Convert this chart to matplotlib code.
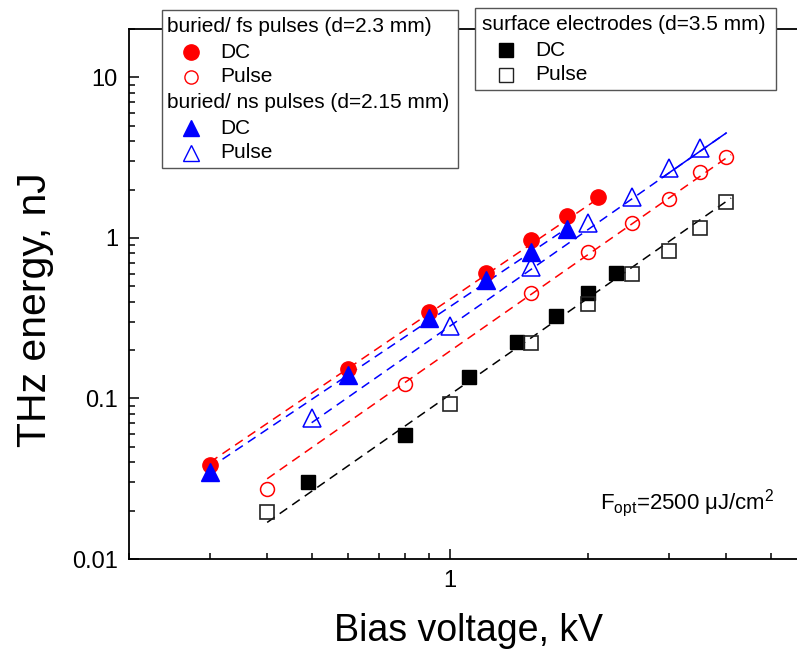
import numpy as np
import matplotlib
matplotlib.use("Agg")
import matplotlib.pyplot as plt
from matplotlib.ticker import LogLocator, FuncFormatter, NullFormatter
from matplotlib.patches import Rectangle
from matplotlib.lines import Line2D

plt.rcParams['font.family'] = ['Liberation Sans', 'DejaVu Sans']
plt.rcParams['mathtext.fontset'] = 'custom'
plt.rcParams['mathtext.rm'] = 'Liberation Sans'
plt.rcParams['mathtext.it'] = 'Liberation Sans:italic'

# ---- data (kV, nJ) ----
fs_dc_x = [0.3, 0.6, 0.9, 1.2, 1.5, 1.8, 2.1]
fs_dc_y = [0.0387, 0.153, 0.346, 0.606, 0.97, 1.37, 1.80]

fs_pulse_x = [0.4, 0.8, 1.5, 2.0, 2.5, 3.0, 3.5, 4.0]
fs_pulse_y = [0.0274, 0.123, 0.455, 0.82, 1.24, 1.75, 2.58, 3.19]

ns_dc_x = [0.3, 0.6, 0.9, 1.2, 1.5, 1.8]
ns_dc_y = [0.035, 0.140, 0.318, 0.548, 0.818, 1.14]

ns_pulse_x = [0.5, 1.0, 1.5, 2.0, 2.5, 3.0, 3.5]
ns_pulse_y = [0.076, 0.283, 0.66, 1.24, 1.80, 2.73, 3.63]

surf_dc_x = [0.49, 0.8, 1.1, 1.4, 1.7, 2.0, 2.3]
surf_dc_y = [0.030, 0.059, 0.136, 0.225, 0.327, 0.455, 0.606]

surf_pulse_x = [0.4, 1.0, 1.5, 2.0, 2.5, 3.0, 3.5, 4.0]
surf_pulse_y = [0.0195, 0.093, 0.222, 0.388, 0.597, 0.83, 1.15, 1.68]

# power-law fit lines (end points)
fit_fs_dc_x = [0.3, 2.1]
fit_fs_dc_y = [0.040, 1.75]
fit_ns_dc_x = [0.3, 1.8]
fit_ns_dc_y = [0.037, 1.15]
fit_ns_pulse_x = [0.5, 4.0]
fit_ns_pulse_y = [0.0706, 4.5]
fit_ns_pulse_solid_x = [2.9, 4.0]
fit_ns_pulse_solid_y = [2.37, 4.5]
fit_fs_pulse_x = [0.4, 4.1]
fit_fs_pulse_y = [0.0316, 3.3]
fit_surf_x = [0.4, 4.1]
fit_surf_y = [0.0169, 1.77]

W, H = 797, 650
fig = plt.figure(figsize=(W / 100, H / 100), dpi=100)
ax = fig.add_axes([129 / W, 1 - 559 / H, (807 - 129) / W, (559 - 29) / H])
ax.set_xscale('log')
ax.set_yscale('log')
ax.set_xlim(0.2, 6)
ax.set_ylim(0.01, 20)

dash = dict(lw=1.1, dashes=(6, 4))
ax.plot(fit_fs_dc_x, fit_fs_dc_y, color='#ff0000', **dash, zorder=2)
ax.plot(fit_ns_dc_x, fit_ns_dc_y, color='#0000ff', **dash, zorder=2)
ax.plot(fit_ns_pulse_x, fit_ns_pulse_y, color='#0000ff', **dash, zorder=2)
ax.plot(fit_ns_pulse_solid_x, fit_ns_pulse_solid_y, color='#0000ff', lw=1.1, zorder=2)
ax.plot(fit_fs_pulse_x, fit_fs_pulse_y, color='#ff0000', **dash, zorder=2)
ax.plot(fit_surf_x, fit_surf_y, color='black', **dash, zorder=2)

ax.plot(surf_dc_x, surf_dc_y, 's', ms=9.6, color='black', ls='none', zorder=3)
ax.plot(surf_pulse_x, surf_pulse_y, 's', ms=9.6, mfc='none', mec='#222222', mew=1.2, ls='none', zorder=3)
ax.plot(fs_pulse_x, fs_pulse_y, 'o', ms=10, mfc='none', mec='#ff0000', mew=1.1, ls='none', zorder=3)
ax.plot(ns_pulse_x, ns_pulse_y, '^', ms=12.5, mfc='none', mec='#0000ff', mew=1.1, ls='none', zorder=3)
ax.plot(fs_dc_x, fs_dc_y, 'o', ms=11, color='#ff0000', ls='none', zorder=4)
ax.plot(ns_dc_x, ns_dc_y, '^', ms=12.5, color='#0000ff', ls='none', zorder=5)

# axes styling
for side in ['left', 'bottom', 'top']:
    ax.spines[side].set_linewidth(1.3)
ax.spines['right'].set_visible(False)
ax.xaxis.set_major_locator(LogLocator(base=10))
ax.xaxis.set_minor_locator(LogLocator(base=10, subs=np.arange(2, 10)))
ax.yaxis.set_major_locator(LogLocator(base=10))
ax.yaxis.set_minor_locator(LogLocator(base=10, subs=np.arange(2, 10)))
fmt = FuncFormatter(lambda v, p: '%g' % v)
ax.xaxis.set_major_formatter(fmt)
ax.yaxis.set_major_formatter(fmt)
ax.xaxis.set_minor_formatter(NullFormatter())
ax.yaxis.set_minor_formatter(NullFormatter())
ax.tick_params(which='both', direction='in', top=False, right=False, width=1.1, labelsize=17)
ax.tick_params(which='major', length=7.5, pad=8)
ax.tick_params(which='minor', length=4.5)

ax.set_xlabel('Bias voltage, kV', fontsize=27, labelpad=15)
ax.set_ylabel('THz energy, nJ', fontsize=29.5)
ax.yaxis.set_label_coords(-0.111, 0.47)

fig.text(600 / W, 1 - 503 / H, r'F$_{\rm opt}$=2500 μJ/cm$^2$', fontsize=16, va='center', ha='left')

# ---- manual legends (figure pixel coords, origin top-left) ----
def fx(x):
    return x / W

def fy(y):
    return 1 - y / H

def box(x0, y0, x1, y1):
    fig.add_artist(Rectangle((fx(x0), fy(y1)), fx(x1) - fx(x0), fy(y0) - fy(y1),
                             transform=fig.transFigure, facecolor='white',
                             edgecolor='#555555', lw=1.0, zorder=5))

def mark(x, y, **kw):
    fig.add_artist(Line2D([fx(x)], [fy(y)], transform=fig.transFigure, ls='none', zorder=6, **kw))

def label(x, y, s):
    fig.text(fx(x), fy(y), s, fontsize=15, va='center', ha='left', zorder=6)

box(162, 10, 458, 168)
label(167, 26, 'buried/ fs pulses (d=2.3 mm)')
mark(191, 52, marker='o', ms=11, color='#ff0000')
label(220, 52, 'DC')
mark(191, 77, marker='o', ms=9.5, mfc='none', mec='#ff0000', mew=1.0)
label(220, 77, 'Pulse')
label(167, 102, 'buried/ ns pulses (d=2.15 mm)')
mark(191, 128, marker='^', ms=12, color='#0000ff')
label(220, 128, 'DC')
mark(191, 153, marker='^', ms=12, mfc='none', mec='#0000ff', mew=1.0)
label(220, 153, 'Pulse')

box(475, 8, 776, 90)
label(482, 24, 'surface electrodes (d=3.5 mm)')
mark(506, 50, marker='s', ms=9.5, color='black')
label(535, 50, 'DC')
mark(506, 75, marker='s', ms=9.5, mfc='none', mec='#222222', mew=1.0)
label(535, 75, 'Pulse')

fig.savefig('out.png', dpi=100)
